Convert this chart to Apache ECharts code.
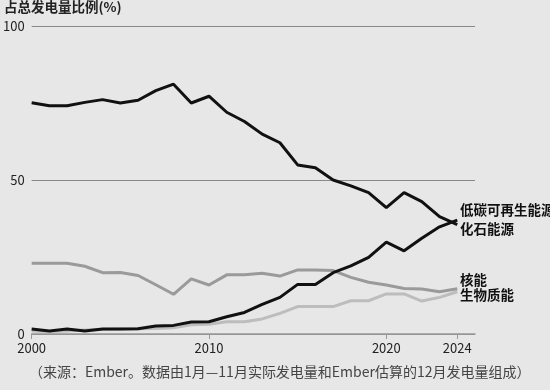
<!DOCTYPE html>
<html><head><meta charset="utf-8">
<script src="https://cdn.jsdelivr.net/npm/echarts@6/dist/echarts.min.js"></script>
<style>html,body{margin:0;padding:0;background:#e7e7e7}#c{width:550px;height:390px}</style>
</head><body><div id="c"></div>
<script>
const years = [2000,2001,2002,2003,2004,2005,2006,2007,2008,2009,2010,2011,2012,2013,2014,2015,2016,2017,2018,2019,2020,2021,2022,2023,2024];
const fossil = [75.1,74.1,74.1,75.2,76.1,75.0,75.9,79.0,81.1,75.0,77.2,72.0,69.0,64.9,62.1,54.9,54.0,50.0,48.1,45.9,41.0,45.9,43.0,38.1,35.5];
const lowCarbon = [1.6,1.0,1.6,1.0,1.6,1.6,1.7,2.6,2.8,3.9,4.0,5.6,7.0,9.6,11.9,16.1,16.1,19.9,22.1,24.9,29.8,27.0,31.1,34.8,37.0];
const nuclear = [23.0,23.0,23.0,22.0,19.9,20.0,19.0,16.0,12.9,17.9,15.9,19.2,19.2,19.7,18.8,20.8,20.8,20.6,18.4,16.8,15.9,14.8,14.6,13.7,14.7];
const biomass = [1.0,0.8,1.0,1.3,1.5,1.6,1.7,1.8,2.0,3.0,3.2,4.0,4.0,4.9,6.7,8.9,8.9,8.9,10.8,10.8,13.0,13.0,10.7,11.9,13.7];
const xTicks = [2000,2010,2020,2024];
const pair = a => years.map((y,i)=>[y,a[i]]);
const font = '"Noto Sans CJK SC", sans-serif';
const chart = echarts.init(document.getElementById('c'));
const mk = (name, data, color) => ({name, type:'line', data:pair(data), symbol:'none', lineStyle:{color, width:3}, z: 3});
chart.setOption({
  backgroundColor:'#e7e7e7',
  animation:false,
  textStyle:{fontFamily:font},
  grid:{left:31,right:75,top:26,bottom:56},
  xAxis:{type:'value',min:2000,max:2025,
    axisLine:{lineStyle:{color:'#999',width:1.5}},
    axisTick:{show:true,customValues:xTicks,length:5,lineStyle:{color:'#999'}},
    axisLabel:{customValues:xTicks,color:'#222',fontSize:13,fontFamily:font,margin:8,formatter:v=>String(v)},
    splitLine:{show:false}},
  yAxis:{type:'value',min:0,max:100,interval:50,
    axisLine:{show:false},axisTick:{show:false},
    axisLabel:{color:'#222',fontSize:13,fontFamily:font,margin:7},
    splitLine:{lineStyle:{color:'#888',width:1.2}}},
  series:[
    mk('生物质能', biomass, '#bdbdbd'),
    mk('核能', nuclear, '#9a9a9a'),
    mk('化石能源', fossil, '#111'),
    mk('低碳可再生能源', lowCarbon, '#111')
  ],
  graphic:[
    {type:'text',left:4,top:0,style:{text:'占总发电量比例(%)',font:'bold 13.5px '+font,fill:'#222'}},
    {type:'text',left:460,top:203,style:{text:'低碳可再生能源',font:'bold 13.5px '+font,fill:'#111'}},
    {type:'text',left:460,top:222,style:{text:'化石能源',font:'bold 13.5px '+font,fill:'#111'}},
    {type:'text',left:460,top:273,style:{text:'核能',font:'bold 13.5px '+font,fill:'#111'}},
    {type:'text',left:460,top:288,style:{text:'生物质能',font:'bold 13.5px '+font,fill:'#111'}},
    {type:'text',left:29,top:365,style:{text:'（来源：Ember。数据由1月—11月实际发电量和Ember估算的12月发电量组成）',font:'14px '+font,fill:'#444'}}
  ]
});
</script></body></html>
